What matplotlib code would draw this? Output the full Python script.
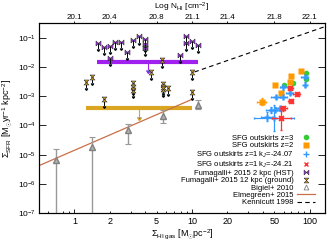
import numpy as np
import matplotlib.pyplot as plt
from matplotlib.ticker import FixedLocator, LogLocator, FuncFormatter

plt.rcParams['font.family'] = ['Liberation Sans', 'DejaVu Sans']
plt.rcParams['mathtext.fontset'] = 'custom'
plt.rcParams['mathtext.rm'] = 'Liberation Sans'
plt.rcParams['mathtext.it'] = 'Liberation Sans:italic'
plt.rcParams['mathtext.bf'] = 'Liberation Sans:bold'

# ---- data ----
# Fumagalli+ 2015, 2 kpc (HST) upper limits
f2_sig = [1.59, 1.77, 1.99, 2.23, 2.50, 2.80, 3.14, 3.53, 3.96, 3.96, 3.96, 8.9, 8.9, 9.9, 11.2, 7.9, 1.99]
f2_sfr = [0.066, 0.048, 0.054, 0.073, 0.069, 0.032, 0.083, 0.11, 0.087, 0.061, 0.043,
          0.114, 0.064, 0.078, 0.058, 0.025, 0.021]
f2_bar_sig = [1.57, 11.2]
f2_bar_sfr = 0.0144

# Fumagalli+ 2015, 12 kpc (ground) upper limits
f12_sig = [1.26, 1.41, 1.77, 3.14, 3.14, 3.14, 5.6, 4.45, 5.62, 5.62, 5.62, 6.3, 9.9, 9.9]
f12_sfr = [3.1e-3, 4.4e-3, 7.7e-4, 2.76e-3, 2.14e-3, 1.69e-3, 0.0173, 6.6e-3,
           2.57e-3, 2.1e-3, 1.73e-3, 1.95e-3, 6.6e-3, 1.35e-3]
f12_bar_sig = [1.26, 9.9]
f12_bar_sfr = 3.8e-4

# Bigiel+ 2010
big_sig = [0.70, 1.41, 2.83, 5.65, 11.2]
big_sfr = [6.5e-6, 1.86e-5, 6.9e-5, 2.1e-4, 5.0e-4]
big_lo = [1e-9, 1e-9, 2.4e-5, 1.17e-4, 3.6e-4]
big_hi = [1.55e-5, 3.9e-5, 1.1e-4, 3.3e-4, 7.4e-4]

# Elmegreen+ 2015 and Kennicutt 1998
elm_sig = [0.5, 10.0]
elm_sfr = [4.2e-6, 7.8e-4]
ken_sig = [10.5, 140.0]
ken_norm, ken_slope = 2.5e-4, 1.4

# SFG outskirts
z3_sig = [92.5, 93.8, 71.8, 60.2]
z3_sfr = [6.0e-3, 3.8e-3, 2.78e-3, 2.47e-3]

z2_sig = [83.9, 70.0, 67.7, 51.2, 57.5, 39.0]
z2_sfr = [7.4e-3, 5.0e-3, 3.1e-3, 2.4e-3, 1.25e-3, 6.4e-4]
z2_xerr = [0, 0, 0, 0, 0, 0.04]
z2_yerr = [0, 0, 0, 0, 0, 0.12]

b_sig = [90.7, 91.5, 59.4, 67.7, 51.5, 59.4, 50.5, 47.3, 55.7, 43.0, 49.5]
b_sfr = [4.6e-3, 2.5e-3, 2.0e-3, 1.28e-3, 9.3e-4, 9.5e-4, 3.5e-4, 3.3e-4, 3.8e-4, 1.96e-4, 1.78e-4]
b_xerr = [0.03, 0.0, 0.03, 0.03, 0.04, 0.03, 0.04, 0.05, 0.03, 0.05, 0.17]
b_yerr = [0.05, 0.08, 0.08, 0.08, 0.08, 0.08, 0.1, 0.1, 0.1, 0.15, 0.45]

r_sig = [68.4, 77.6, 69.0, 59.4, 57.5]
r_sfr = [1.9e-3, 1.18e-3, 6.8e-4, 3.8e-4, 1.74e-4]
r_xerr = [0.02, 0.03, 0.02, 0.03, 0.08]
r_yerr = [0.06, 0.06, 0.08, 0.1, 0.4]

x_major = [1, 10, 100]
x_minor = [0.6, 0.7, 0.8, 0.9, 2, 3, 4, 5, 6, 7, 8, 9, 20, 30, 40, 50, 60, 70, 80, 90]
bottom_labels = [1, 2, 5, 10, 20, 50, 100]
top_ticks = [1, 2, 5, 10, 20, 50, 100]
top_labels = ['20.1', '20.4', '20.8', '21.1', '21.4', '21.8', '22.1']
y_major = [1e-7, 1e-6, 1e-5, 1e-4, 1e-3, 1e-2, 1e-1]


def dex_err(v, d):
    v = np.asarray(v, float)
    d = np.asarray(d, float)
    return [v * (1 - 10 ** -d), v * (10 ** d - 1)]


bowtie = [(-1, -1), (-1, 1), (1, -1), (1, 1), (-1, -1)]
hourglass = [(-1, 1), (1, 1), (-1, -1), (1, -1), (-1, 1)]

fig = plt.figure(figsize=(3.33, 2.43), dpi=100)
ax = fig.add_axes([0.117, 0.123, 0.859, 0.782])
ax.set_xscale('log')
ax.set_yscale('log')

# bars with mean upper limit arrows
ax.plot(f2_bar_sig, [f2_bar_sfr] * 2, color='#A020F0', lw=3, solid_capstyle='butt', zorder=1)
ax.plot(f12_bar_sig, [f12_bar_sfr] * 2, color='#DAA520', lw=3, solid_capstyle='butt', zorder=1)
mid2 = np.sqrt(f2_bar_sig[0] * f2_bar_sig[1])
mid12 = np.sqrt(f12_bar_sig[0] * f12_bar_sig[1])
ax.errorbar([mid2], [f2_bar_sfr], yerr=[f2_bar_sfr * 0.45], uplims=True, fmt='none',
            ecolor='#A020F0', elinewidth=0.8, capsize=1.2, zorder=1)
ax.errorbar([mid12], [f12_bar_sfr], yerr=[f12_bar_sfr * 0.5], uplims=True, fmt='none',
            ecolor='#DAA520', elinewidth=0.8, capsize=1.2, zorder=1)

# lines
ax.plot(elm_sig, elm_sfr, color='#C87048', lw=0.9, zorder=2)
ks = np.array(ken_sig)
ax.plot(ks, ken_norm * ks ** ken_slope, color='black', lw=0.8, ls=(0, (4, 3)), zorder=2)

# Fumagalli upper limits
f2_sfr_a = np.array(f2_sfr)
ax.errorbar(f2_sig, f2_sfr, yerr=f2_sfr_a * 0.38, uplims=True, fmt='none', ecolor='black',
            elinewidth=0.7, capsize=0.9, zorder=3)
ax.plot(f2_sig, f2_sfr, ls='none', marker=bowtie, ms=3.6, mfc='#9A30E0', mec='#333333',
        mew=0.4, zorder=4)
f12_sfr_a = np.array(f12_sfr)
ax.errorbar(f12_sig, f12_sfr, yerr=f12_sfr_a * 0.38, uplims=True, fmt='none', ecolor='black',
            elinewidth=0.7, capsize=0.9, zorder=3)
ax.plot(f12_sig, f12_sfr, ls='none', marker=hourglass, ms=3.6, mfc='#C8961E', mec='#333333',
        mew=0.4, zorder=4)

# Bigiel
big_sfr_a = np.array(big_sfr)
ax.errorbar(big_sig, big_sfr,
            yerr=[big_sfr_a - np.array(big_lo), np.array(big_hi) - big_sfr_a],
            fmt='^', ms=3.8, color='#8c8c8c', mfc='#b0b0b0', mec='#808080', ecolor='#999999',
            elinewidth=1.0, capsize=2, capthick=0.8, zorder=3)

# SFG outskirts
ax.plot(z3_sig, z3_sfr, 'o', ms=4, color='#33CC33', mec='none', zorder=5)
ax.errorbar(z2_sig, z2_sfr, xerr=dex_err(z2_sig, z2_xerr), yerr=dex_err(z2_sfr, z2_yerr),
            fmt='s', ms=4, color='#FF9900', mec='none', elinewidth=0.8, capsize=1, zorder=5)
ax.errorbar(b_sig, b_sfr, xerr=dex_err(b_sig, b_xerr), yerr=dex_err(b_sfr, b_yerr),
            fmt='P', ms=4, color='#3399FF', mec='none', elinewidth=0.9, capsize=1, zorder=5)
ax.errorbar(r_sig, r_sfr, xerr=dex_err(r_sig, r_xerr), yerr=dex_err(r_sfr, r_yerr),
            fmt='X', ms=4.5, color='#FF3333', mec='none', elinewidth=0.9, capsize=1, zorder=6)

ax.set_xlim(0.5, 135)
ax.set_ylim(1e-7, 10 ** -0.5)

# legend (proxy handles)
h = []
h.append(ax.plot([], [], 'o', ms=4, color='#33CC33', mec='none', label='SFG outskirts z=3')[0])
h.append(ax.plot([], [], 's', ms=4, color='#FF9900', mec='none', label='SFG outskirts z=2')[0])
h.append(ax.plot([], [], '+', ms=4, mew=1, color='#3399FF',
                 label='SFG outskirts z=1 k$_J$=-24.07')[0])
h.append(ax.plot([], [], 'x', ms=3.5, mew=1, color='#FF3333',
                 label='SFG outskirts z=1 k$_J$=-24.21')[0])
h.append(ax.plot([], [], ls='none', marker=bowtie, ms=3.5, mfc='#9A30E0', mec='#333333', mew=0.4,
                 label='Fumagalli+ 2015 2 kpc (HST)')[0])
h.append(ax.plot([], [], ls='none', marker=hourglass, ms=3.5, mfc='#C8961E', mec='#333333', mew=0.4,
                 label='Fumagalli+ 2015 12 kpc (ground)')[0])
h.append(ax.plot([], [], '^', ms=3.5, mfc='white', mec='#808080', mew=0.6, label='Bigiel+ 2010')[0])
h.append(ax.plot([], [], color='#C87048', lw=0.9, label='Elmegreen+ 2015')[0])
h.append(ax.plot([], [], color='black', lw=0.8, ls=(0, (4, 3)), label='Kennicutt 1998')[0])
leg = ax.legend(handles=h, loc='lower right', bbox_to_anchor=(0.965, 0.035), frameon=False,
                fontsize=5.5, markerfirst=False, handlelength=2.4, handletextpad=0.4,
                labelspacing=0.0, borderpad=0, borderaxespad=0)

# ticks
ax.xaxis.set_major_locator(FixedLocator(x_major))
ax.xaxis.set_minor_locator(FixedLocator(x_minor))


def xlab(v, p):
    for b in bottom_labels:
        if abs(v - b) < 1e-6 * b:
            return '%g' % b
    return ''


ax.xaxis.set_major_formatter(FuncFormatter(xlab))
ax.xaxis.set_minor_formatter(FuncFormatter(xlab))
ax.yaxis.set_major_locator(FixedLocator(y_major))
ax.yaxis.set_minor_locator(FixedLocator([]))
ax.tick_params(axis='x', which='both', direction='in', labelsize=6.5, pad=3, top=False)
ax.tick_params(axis='x', which='major', length=3, width=0.6)
ax.tick_params(axis='x', which='minor', length=1.5, width=0.6)
ax.tick_params(axis='y', which='major', direction='in', length=5, width=0.6, labelsize=6,
               right=True, pad=2)
for s in ax.spines.values():
    s.set_linewidth(0.8)

ax.set_xlabel(r'$\Sigma_{\rm HI\ gas}$ [M$_{\odot}$pc$^{-2}$]', fontsize=6.5, labelpad=0.5)
ax.set_ylabel(r'$\Sigma_{\rm SFR}$ [M$_{\odot}$yr$^{-1}$ kpc$^{-2}$]', fontsize=6.5, labelpad=3)

ax2 = ax.twiny()
ax2.set_xscale('log')
ax2.set_xlim(ax.get_xlim())
ax2.xaxis.set_major_locator(FixedLocator(top_ticks))
ax2.xaxis.set_minor_locator(FixedLocator([]))
ax2.set_xticklabels(top_labels)
ax2.tick_params(axis='x', direction='out', length=1.2, width=0.6, labelsize=5.8, pad=0.2)
fig.text(0.545, 0.997, r'Log N$_{\rm HI}$ [cm$^{-2}$]', fontsize=6, ha='center', va='top')

fig.savefig('out.png', dpi=100)
